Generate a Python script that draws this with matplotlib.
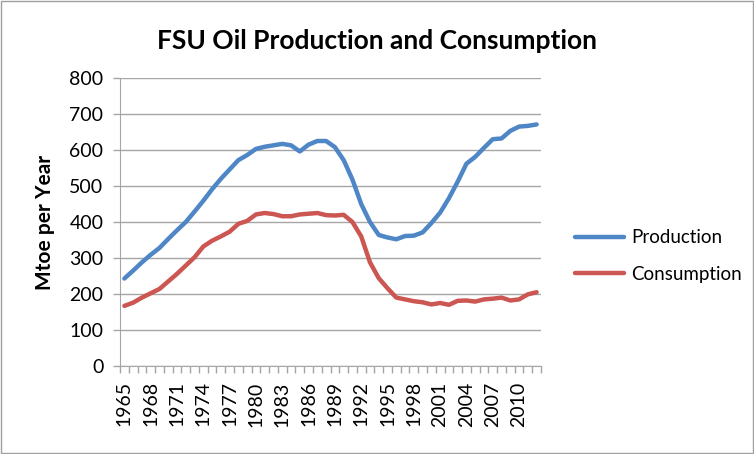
import matplotlib
matplotlib.use('Agg')
import matplotlib.pyplot as plt
from matplotlib.patches import Rectangle
import numpy as np

'''FSU oil production and consumption, 1965-2012'''

#Data (Mtoe per year)
years = list(range(1965, 2013))
production = [243, 265, 288, 309, 328, 353, 377, 400, 429, 459,
              491, 520, 546, 572, 586, 603, 609, 613, 617, 613,
              596, 615, 625, 625, 608, 572, 518, 450, 400, 364,
              357, 352, 361, 362, 371, 397, 426, 466, 512, 562,
              581, 606, 630, 632, 653, 665, 667, 671]
consumption = [167, 176, 190, 202, 214, 235, 256, 279, 302, 332,
               348, 360, 373, 395, 403, 421, 425, 422, 416, 416,
               421, 423, 425, 419, 418, 420, 400, 360, 288, 244,
               216, 190, 185, 180, 177, 171, 175, 170, 181, 182,
               179, 185, 187, 190, 182, 185, 199, 205]
labelList = ['Production', 'Consumption']

#Settings for the plot
title = "FSU Oil Production and Consumption"
blue = '#4f86c6'
red = '#cc5651'
gridGrey = '#a6a6a6'
font = 'Lato'
plt.rcParams['font.family'] = [font, 'DejaVu Sans']

fig = plt.figure(figsize=(7.54, 4.54), dpi=100)
ax = fig.add_axes([120/754, 1-366/454, 421/754, 288/454])

index = np.arange(len(years))
ax.plot(index, production, color=blue, lw=3.2, label=labelList[0], solid_capstyle='round')
ax.plot(index, consumption, color=red, lw=3.2, label=labelList[1], solid_capstyle='round')

#Axes, ticks and grid
ax.set_xlim(-0.5, len(years)-0.5)
ax.set_ylim(0, 800)
ax.set_yticks(np.arange(0, 801, 100))
ax.yaxis.grid(True, color=gridGrey, lw=1)
ax.set_axisbelow(True)
for side in ['top', 'right']:
    ax.spines[side].set_visible(False)
ax.spines['left'].set_color(gridGrey)
ax.spines['bottom'].set_color(gridGrey)
ax.tick_params(axis='y', colors=gridGrey, length=5, width=1, labelcolor='black', labelsize=14, pad=7)

ax.set_xticks(index[::3])
ax.set_xticklabels([str(y) for y in years[::3]], rotation=90, fontsize=14)
ax.tick_params(axis='x', which='major', length=0, pad=11)
ax.set_xticks(np.arange(-0.5, len(years), 1), minor=True)
ax.tick_params(axis='x', which='minor', colors=gridGrey, length=5, width=1)

ax.set_ylabel('Mtoe per Year', fontsize=15, fontweight='bold', labelpad=10)
fig.text(377/754, 1-41/454, title, ha='center', va='center', fontsize=19, fontweight='bold')

ax.legend(loc='center left', bbox_to_anchor=(558/754, 1-256/454), bbox_transform=fig.transFigure,
          frameon=False, fontsize=13.5, handlelength=2.6, labelspacing=1.05, handletextpad=0.4)

#Outer border
fig.patches.append(Rectangle((0.0015, 0.002), 0.997, 0.996, transform=fig.transFigure,
                             fill=False, edgecolor='#a0a0a0', lw=1))

plt.savefig('out.png', dpi=100)
